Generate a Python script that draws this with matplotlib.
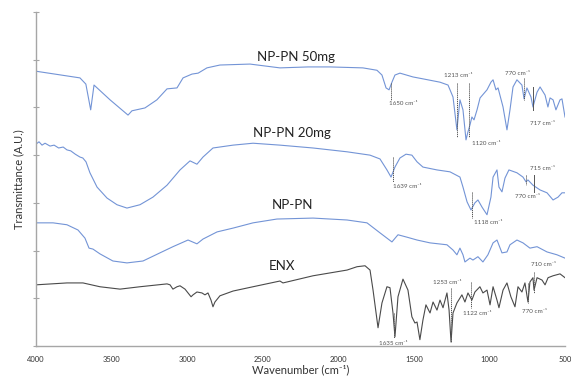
import matplotlib
matplotlib.use('Agg')
import matplotlib.pyplot as plt

plt.rcParams['font.family'] = ['Lato', 'DejaVu Sans']

# wavenumber (cm-1) / transmittance (A.U.)
wn_50 = [4000, 3709, 3670, 3638, 3616, 3510, 3391, 3365, 3279, 3200, 3133, 3067, 3027,
         2968, 2927, 2869, 2783, 2584, 2386, 2200, 2055, 1837, 1744, 1711, 1684, 1664,
         1645, 1625, 1592, 1506, 1440, 1327, 1274, 1241, 1215, 1195, 1175, 1155, 1142,
         1129, 1116, 1102, 1082, 1062, 1016, 990, 976, 957, 943, 910, 884, 864, 844, 818,
         785, 771, 752, 725, 712, 685, 665, 632, 613, 599, 579, 560, 533, 520, 500]
t_50 = [57.6, 56.2, 54.9, 49.5, 54.7, 51.6, 48.4, 49.3, 49.9, 51.6, 53.9, 54.1, 56.2,
        57.0, 57.2, 58.3, 58.9, 59.1, 58.3, 58.5, 58.5, 58.3, 57.8, 56.8, 54.1, 53.7,
        55.3, 56.8, 57.2, 56.4, 56.0, 55.3, 54.7, 52.2, 45.3, 51.6, 49.5, 43.2, 44.9,
        46.3, 48.0, 47.4, 49.5, 52.0, 53.7, 55.3, 55.8, 53.7, 54.1, 50.1, 45.3, 49.5, 54.3, 55.8,
        54.7, 51.8, 54.1, 52.2, 50.1, 53.2, 54.3, 52.6, 50.1, 52.0, 51.6, 49.5, 51.6, 51.8, 48.0]

wn_20 = [4000, 3980, 3960, 3940, 3907, 3880, 3850, 3820, 3795, 3770, 3740, 3709, 3690,
         3669, 3643, 3596, 3530, 3464, 3398, 3312, 3226, 3133, 3047, 2981, 2935, 2895,
         2829, 2696, 2564, 2386, 2167, 1942, 1790, 1724, 1678, 1651, 1625, 1592, 1552,
         1513, 1479, 1440, 1347, 1261, 1195, 1175, 1148, 1122, 1096, 1076, 1049, 1016,
         990, 976, 950, 937, 917, 897, 871, 818, 778, 758, 745, 712, 665, 619, 579, 546, 520, 500]
t_20 = [42.3, 42.8, 42.1, 42.5, 41.9, 42.1, 41.5, 41.7, 41.1, 40.9, 40.2, 39.6, 39.4,
        38.6, 36.3, 33.3, 31.0, 29.6, 28.9, 29.6, 31.2, 33.7, 36.9, 38.8, 38.1, 39.6,
        41.5, 42.1, 42.5, 42.1, 41.5, 40.7, 40.0, 39.2, 36.9, 35.4, 37.5, 39.4, 40.2,
        40.0, 38.6, 37.5, 36.9, 36.5, 35.4, 33.3, 30.2, 28.5, 30.0, 30.6, 29.1, 27.5,
        31.2, 35.4, 36.9, 33.3, 32.3, 35.2, 36.9, 36.3, 35.4, 34.4, 34.8, 33.7, 32.7, 32.1, 30.6, 31.2, 32.1, 32.1]

wn_np = [4000, 3887, 3795, 3722, 3676, 3649, 3623, 3577, 3491, 3398, 3292, 3180, 3094,
         2994, 2935, 2895, 2802, 2696, 2564, 2406, 2167, 1942, 1810, 1724, 1645, 1605,
         1546, 1479, 1393, 1281, 1241, 1215, 1195, 1175, 1162, 1129, 1109, 1076, 1043,
         1010, 976, 950, 917, 884, 864, 818, 778, 732, 685, 619, 553, 500]
t_np = [25.8, 25.8, 25.4, 24.3, 22.6, 20.5, 20.3, 19.3, 17.8, 17.4, 17.8, 19.5, 20.8,
        22.2, 21.4, 22.4, 23.9, 24.7, 25.8, 26.6, 26.8, 26.4, 25.8, 23.7, 21.8, 23.3,
        22.8, 22.2, 21.6, 21.2, 20.1, 19.1, 20.5, 19.1, 17.6, 18.4, 18.0, 18.7, 17.6,
        19.1, 21.6, 22.2, 19.5, 19.7, 21.2, 22.2, 21.6, 20.5, 20.8, 19.7, 19.1, 18.4]

wn_enx = [4000, 3795, 3689, 3577, 3444, 3312, 3133, 3113, 3094, 3067, 3047, 3014, 2974,
          2961, 2935, 2902, 2882, 2862, 2842, 2829, 2816, 2783, 2696, 2564, 2386, 2366,
          2339, 2167, 1942, 1876, 1823, 1790, 1770, 1737, 1711, 1678, 1658, 1638, 1625,
          1605, 1572, 1539, 1513, 1493, 1479, 1460, 1440, 1420, 1393, 1373, 1347, 1327,
          1307, 1281, 1267, 1254, 1241, 1215, 1182, 1162, 1142, 1116, 1096, 1063, 1043,
          1016, 996, 976, 950, 937, 910, 884, 858, 831, 811, 785, 765, 745, 732, 712, 705,
          685, 652, 632, 612, 579, 533, 500]
t_enx = [12.8, 13.2, 13.2, 12.4, 11.9, 12.4, 13.0, 12.8, 11.9, 12.4, 12.6, 11.9, 10.3,
         10.7, 11.3, 11.1, 10.7, 11.1, 9.6, 8.2, 9.2, 10.5, 11.5, 12.4, 13.6, 13.2,
         13.4, 14.7, 15.9, 16.6, 16.8, 15.9, 11.7, 3.8, 9.0, 12.4, 12.2, 6.9, 1.9,
         10.3, 14.0, 11.7, 6.1, 4.8, 5.0, 1.3, 5.4, 8.6, 6.9, 9.2, 7.5, 9.6,
         8.0, 11.1, 7.5, 0.8, 6.9, 9.0, 10.7, 9.2, 11.1, 9.6, 11.3, 12.4, 11.1,
         11.7, 8.6, 12.4, 9.6, 8.0, 11.7, 13.2, 10.3, 8.2, 12.4, 11.3, 13.2, 9.2, 13.4, 14.3, 11.7,
         14.3, 13.8, 12.8, 14.3, 14.7, 15.1, 14.3]

names = ['NP-PN 50mg', 'NP-PN 20mg', 'NP-PN', 'ENX']
name_pos = [(2280, 60.6), (2306, 44.6), (2300, 29.6), (2372, 16.8)]

# marker: wavenumber, line from, line to, dashed?, label, label x, label y
marks = [
    (1650, 55.1, 51.6, True, '1650', 1572, 50.9),
    (1213, 55.1, 43.8, True, '1213', 1208, 56.8),
    (1135, 55.1, 43.8, True, '1120', 1023, 42.5),
    (771, 56.2, 51.6, True, '770', 811, 57.2),
    (712, 54.3, 49.5, False, '717', 652, 46.7),
    (1638, 39.6, 34.4, True, '1639', 1545, 33.5),
    (1115, 32.3, 26.8, True, '1118', 1010, 25.8),
    (758, 35.8, 33.7, True, '770', 745, 31.4),
    (705, 35.8, 32.3, False, '715', 646, 37.3),
    (1631, 6.9, 1.7, True, '1635', 1638, 0.6),
    (1254, 12.2, 0.8, True, '1253', 1281, 13.2),
    (1122, 13.4, 8.0, True, '1122', 1082, 6.7),
    (745, 13.2, 9.0, True, '770', 705, 7.3),
    (705, 15.5, 11.1, True, '710', 639, 17.0),
]

blue = '#7394d6'
grey = '#4a4a4a'
axc = '#a6a6a6'

fig = plt.figure(figsize=(5.71, 3.78), dpi=100)
ax = fig.add_axes([0.063, 0.085, 0.9265, 0.883])

ax.plot(wn_50, t_50, color=blue, lw=0.8)
ax.plot(wn_20, t_20, color=blue, lw=0.8)
ax.plot(wn_np, t_np, color=blue, lw=0.8)
ax.plot(wn_enx, t_enx, color=grey, lw=0.8)

for n, (x, y) in zip(names, name_pos):
    ax.text(x, y, n, fontsize=9.5, ha='center', va='center', color='#222222')

for w, y0, y1, dashed, lab, lx, ly in marks:
    ax.plot([w, w], [y0, y1], color='#555555', lw=0.7, ls=(0, (1.2, 0.8)) if dashed else '-')
    ax.text(lx, ly, lab + ' cm⁻¹', fontsize=4.5, ha='center', va='center', color='#555555')

ax.set_xlim(4000, 500)
ax.set_ylim(0, 70)
ax.set_xticks([4000, 3500, 3000, 2500, 2000, 1500, 1000, 500])
ax.set_yticks(range(0, 71, 10))
ax.set_yticklabels([])
ax.tick_params(axis='x', length=0, labelsize=5.5, pad=7, labelcolor='#333333')
ax.tick_params(axis='y', direction='inout', length=4, width=0.8, color=axc)
for s in ['top', 'right']:
    ax.spines[s].set_visible(False)
for s in ['left', 'bottom']:
    ax.spines[s].set_color(axc)
    ax.spines[s].set_linewidth(1.0)

ax.set_xlabel('Wavenumber (cm⁻¹)', fontsize=8, color='#333333', labelpad=1)
ax.set_ylabel('Transmittance (A.U.)', fontsize=8, color='#333333', labelpad=3)

fig.savefig('out.png', dpi=100)
